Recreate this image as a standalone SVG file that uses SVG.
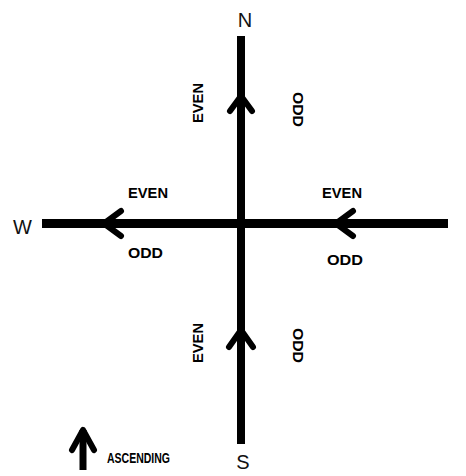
<svg xmlns="http://www.w3.org/2000/svg" width="466" height="476" viewBox="0 0 466 476">
<style>
.dir{font-family:"Liberation Sans",Arial,sans-serif;font-size:20px;fill:#111}
.lbl{font-family:"Liberation Sans",Arial,sans-serif;font-size:15px;font-weight:bold;fill:#000}
.road{stroke:#000;fill:none;stroke-linecap:butt}
.chev{stroke:#000;fill:none;stroke-width:6;stroke-linecap:round;stroke-linejoin:round}
</style>
<rect width="466" height="476" fill="#fff"/>
<g id="connectors">
<line class="road" x1="241" y1="36" x2="241" y2="444" stroke-width="8"/>
<line class="road" x1="42" y1="223.5" x2="448" y2="223.5" stroke-width="9"/>
<polyline class="chev" points="230,111 241,96 252,111"/>
<polyline class="chev" points="229,347 241,330 253,347"/>
<polyline class="chev" points="121,211 104,223.5 121,236"/>
<polyline class="chev" points="353,211 336,223.5 353,236"/>
</g>
<g id="north"><text class="dir" x="245" y="27" text-anchor="middle">N</text></g>
<g id="south"><text class="dir" x="243" y="469" text-anchor="middle" font-size="18">S</text></g>
<g id="west"><text class="dir" x="22.5" y="234" text-anchor="middle" font-size="21">W</text></g>
<g id="n-even"><text class="lbl" transform="translate(203,103) rotate(-90)" text-anchor="middle" textLength="40" lengthAdjust="spacingAndGlyphs">EVEN</text></g>
<g id="n-odd"><text class="lbl" transform="translate(293,109.5) rotate(90)" text-anchor="middle" textLength="35" lengthAdjust="spacingAndGlyphs">ODD</text></g>
<g id="s-even"><text class="lbl" transform="translate(203,343) rotate(-90)" text-anchor="middle" textLength="40" lengthAdjust="spacingAndGlyphs">EVEN</text></g>
<g id="s-odd"><text class="lbl" transform="translate(293,345.5) rotate(90)" text-anchor="middle" textLength="35" lengthAdjust="spacingAndGlyphs">ODD</text></g>
<g id="w-even"><text class="lbl" x="128" y="198" textLength="40" lengthAdjust="spacingAndGlyphs">EVEN</text></g>
<g id="w-odd"><text class="lbl" x="128" y="258" textLength="35" lengthAdjust="spacingAndGlyphs">ODD</text></g>
<g id="e-even"><text class="lbl" x="322" y="198" textLength="40" lengthAdjust="spacingAndGlyphs">EVEN</text></g>
<g id="e-odd"><text class="lbl" x="327" y="265" textLength="36" lengthAdjust="spacingAndGlyphs">ODD</text></g>
<g id="legend">
<line x1="83" y1="430" x2="83" y2="470" stroke="#000" stroke-width="7"/>
<polyline class="chev" points="72,450 83,430 94,450" stroke-width="7"/>
<text class="lbl" x="107" y="463" font-size="13" textLength="63" lengthAdjust="spacingAndGlyphs">ASCENDING</text>
</g>
</svg>
